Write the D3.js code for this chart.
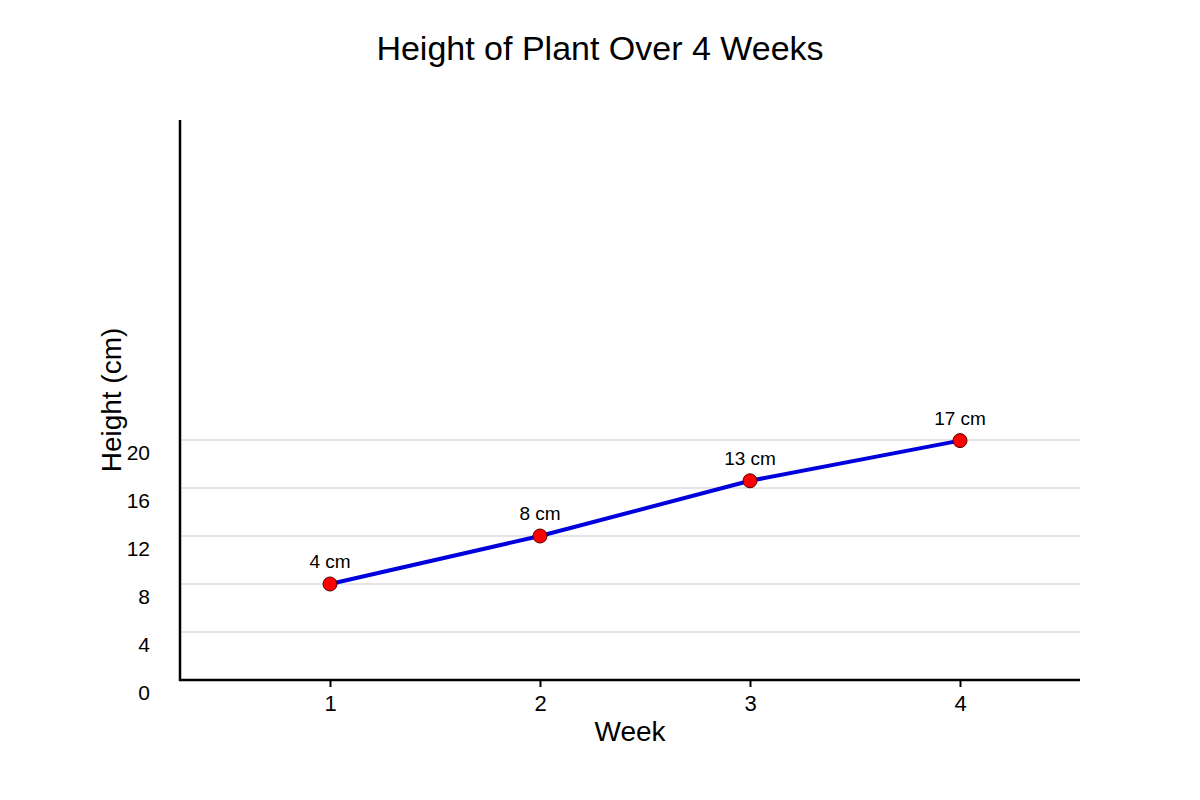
<!DOCTYPE html>
<html><head><meta charset="utf-8">
<script src="https://cdn.jsdelivr.net/npm/d3@7"></script>
<style>body{margin:0;background:#fff}text{font-family:"Liberation Sans",Arial,sans-serif}</style>
</head><body><svg id="c" width="1200" height="800"></svg>
<script>
const weeks = [1, 2, 3, 4];
const plotted = [8, 12, 16.6, 19.95];
const pointLabels = ["4 cm", "8 cm", "13 cm", "17 cm"];
const yTicks = [0, 4, 8, 12, 16, 20];
const title = "Height of Plant Over 4 Weeks";

const svg = d3.select("#c");
const x = d3.scaleLinear().domain([2/7, 32/7]).range([180, 1080]);
const y = d3.scaleLinear().domain([0, 140/3]).range([680, 120]);

svg.append("text").attr("x", 600).attr("y", 60).attr("text-anchor", "middle")
  .attr("font-size", 34).attr("fill", "#000").text(title);

// gridlines
svg.append("g").selectAll("line").data(yTicks.filter(d => d > 0)).join("line")
  .attr("x1", 180).attr("x2", 1080).attr("y1", d => y(d)).attr("y2", d => y(d))
  .attr("stroke", "#dddddd").attr("stroke-width", 1.5);

// y tick labels
svg.append("g").selectAll("text").data(yTicks).join("text")
  .attr("x", 150).attr("y", d => y(d) + 20).attr("text-anchor", "end")
  .attr("font-size", 21).attr("fill", "#000").text(d => d);

// x axis
const xAxis = d3.axisBottom(x).tickValues(weeks).tickSize(7).tickPadding(8).tickFormat(d3.format("d"));
const gx = svg.append("g").attr("transform", "translate(0,680)").call(xAxis);
gx.select(".domain").remove();
gx.selectAll(".tick line").attr("stroke", "#000").attr("stroke-width", 2);
gx.selectAll(".tick text").attr("font-size", 22).attr("fill", "#000").attr("font-family", "Liberation Sans, Arial, sans-serif");

// axis lines
svg.append("line").attr("x1", 180).attr("x2", 180).attr("y1", y.range()[1]).attr("y2", 681)
  .attr("stroke", "#000").attr("stroke-width", 2.5);
svg.append("line").attr("x1", 179).attr("x2", 1080).attr("y1", 680).attr("y2", 680)
  .attr("stroke", "#000").attr("stroke-width", 2.5);

// axis labels
svg.append("text").attr("x", 630).attr("y", 741).attr("text-anchor", "middle")
  .attr("font-size", 28).attr("fill", "#000").text("Week");
svg.append("text").attr("transform", "translate(121,400) rotate(-90)").attr("text-anchor", "middle")
  .attr("font-size", 28).attr("fill", "#000").text("Height (cm)");

const data = weeks.map((w, i) => ({w, v: plotted[i], label: pointLabels[i]}));
svg.append("path").datum(data)
  .attr("d", d3.line().x(d => x(d.w)).y(d => y(d.v)))
  .attr("fill", "none").attr("stroke", "#0000dd").attr("stroke-width", 4);

svg.append("g").selectAll("circle").data(data).join("circle")
  .attr("cx", d => x(d.w)).attr("cy", d => y(d.v)).attr("r", 7)
  .attr("fill", "#ff0000").attr("stroke", "#550000").attr("stroke-width", 1);

svg.append("g").selectAll("text").data(data).join("text")
  .attr("x", d => x(d.w)).attr("y", d => y(d.v) - 16).attr("text-anchor", "middle")
  .attr("font-size", 19).attr("fill", "#000").text(d => d.label);
</script></body></html>
